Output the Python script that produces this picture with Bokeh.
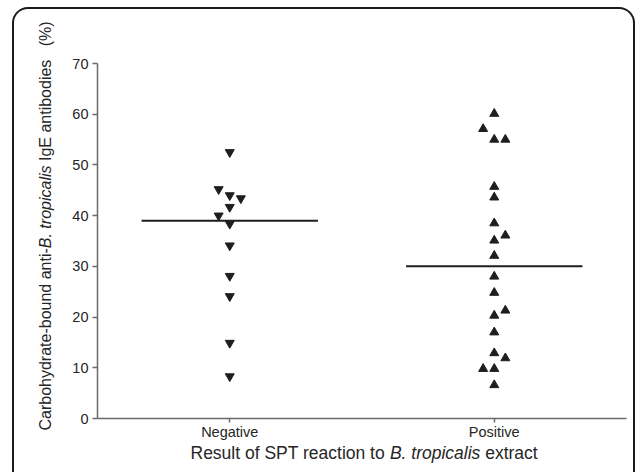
import math
from bokeh.plotting import figure
from bokeh.models import Label, FixedTicker, InlineStyleSheet, Range1d
from bokeh.embed import file_html
from bokeh.resources import INLINE

# ---------------- data ----------------
categories = ["Negative", "Positive"]
y_ticks = [0, 10, 20, 30, 40, 50, 60, 70]

neg_values = [52.5, 45.2, 44.0, 43.4, 41.7, 40.0, 38.4, 34.1, 28.1, 24.1, 14.9, 8.3]
neg_jitter = [0, -1, 0, 1, 0, -1, 0, 0, 0, 0, 0, 0]
neg_median = 39.0

pos_values = [60.1, 57.1, 55.0, 55.0, 45.7, 43.6, 38.5, 36.1, 35.1, 32.1, 28.0,
              24.8, 21.3, 20.3, 17.0, 12.9, 11.9, 9.8, 9.8, 6.6]
pos_jitter = [0, -1, 0, 1, 0, 0, 0, 1, 0, 0, 0, 0, 1, 0, 0, 0, 1, -1, 0, 0]
pos_median = 30.0

y_title_parts = [("Carbohydrate-bound anti-", "normal"), ("B. tropicalis", "italic"),
                 (" IgE antibodies", "normal"), ("   (%)", "normal")]
x_title_parts = [("Result of SPT reaction to ", "normal"), ("B. tropicalis", "italic"),
                 (" extract", "normal")]

# ---------------- layout ----------------
W, H = 635, 472
AX_L, AX_R, AX_T, AX_B = 97, 626, 63, 418   # pixel box of the axes
X0, X1 = 0.5, 2.5
Y0, Y1 = 0, 70
JIT = 0.042
HALF = 1 / 3
FONT = "Liberation Sans"
INK = "#1e1e1e"
TXT = "#262626"

# frame covers the whole canvas; axes are pinned at the data box
ppx = (AX_R - AX_L) / (X1 - X0)
ppy = (AX_B - AX_T) / (Y1 - Y0)
x_range = Range1d(X0 - AX_L / ppx, X1 + (W - AX_R) / ppx)
y_range = Range1d(Y0 - (H - AX_B) / ppy, Y1 + AX_T / ppy)

p = figure(width=W, height=H, output_backend="svg", toolbar_location=None,
           x_range=x_range, y_range=y_range, min_border=0)
p.outline_line_color = None
p.grid.visible = False

xs_neg = [1 + j * JIT for j in neg_jitter]
xs_pos = [2 + j * JIT for j in pos_jitter]
p.scatter(xs_neg, neg_values, marker="inverted_triangle", size=9,
          fill_color=INK, line_color=INK)
p.scatter(xs_pos, pos_values, marker="triangle", size=9,
          fill_color=INK, line_color=INK)
p.segment(x0=[1 - HALF, 2 - HALF], y0=[neg_median, pos_median],
          x1=[1 + HALF, 2 + HALF], y1=[neg_median, pos_median],
          line_color=INK, line_width=2)

for ax in (p.xaxis[0], p.yaxis[0]):
    ax.axis_line_color = "#6a6a6a"
    ax.axis_line_width = 1.5
    ax.major_tick_line_color = "#6a6a6a"
    ax.major_tick_line_width = 1.5
    ax.minor_tick_line_color = None
    ax.major_tick_in = 0
    ax.major_label_text_font = FONT
    ax.major_label_text_color = TXT
    ax.major_label_text_font_size = "14.5px"

p.yaxis.ticker = FixedTicker(ticks=y_ticks)
p.yaxis.bounds = (Y0, Y1)
p.yaxis.fixed_location = X0
p.yaxis.major_tick_out = 5
p.yaxis.major_label_standoff = 4
p.xaxis.ticker = FixedTicker(ticks=[1, 2])
p.xaxis.major_label_overrides = {1: categories[0], 2: categories[1]}
p.xaxis.bounds = (X0, X1)
p.xaxis.fixed_location = Y0
p.xaxis.major_tick_out = 4
p.xaxis.major_label_standoff = 1

# ---------------- titles built from pieces ----------------
AW = {' ': 278, '(': 333, ')': 333, '%': 889, '-': 333, '.': 278,
      'A': 667, 'B': 667, 'C': 722, 'E': 667, 'I': 278, 'P': 667, 'R': 722,
      'S': 667, 'T': 611, 'a': 556, 'b': 556, 'c': 500, 'd': 556, 'e': 556,
      'f': 278, 'g': 556, 'h': 556, 'i': 222, 'l': 222, 'n': 556, 'o': 556,
      'p': 556, 'r': 333, 's': 500, 't': 278, 'u': 556, 'x': 500, 'y': 500}


def tw(s, fs):
    return sum(AW.get(c, 556) for c in s) * fs / 1000.0


def pieces(parts, start, fs):
    out, cur = [], start
    for txt, style in parts:
        lead = len(txt) - len(txt.lstrip(" "))
        out.append((cur + tw(" " * lead, fs), txt.strip(" "), style))
        cur += tw(txt, fs)
    return out


# x title
XFS = 17.5
for pos, txt, style in pieces(x_title_parts, 190.0, XFS):
    p.add_layout(Label(x=pos, y=452, x_units="canvas", y_units="canvas",
                       text=txt, text_font=FONT, text_font_size=f"{XFS}px",
                       text_font_style=style, text_color=TXT,
                       text_align="left", text_baseline="alphabetic"))

# y title (reads bottom to top)
YFS = 16
for pos, txt, style in pieces(y_title_parts, 0.0, YFS):
    p.add_layout(Label(x=45, y=430.0 - pos, x_units="canvas", y_units="canvas",
                       text=txt, text_font=FONT, text_font_size=f"{YFS}px",
                       text_font_style=style, text_color=TXT,
                       text_align="left", text_baseline="alphabetic",
                       angle=math.pi / 2))

# rounded frame around the figure
p.stylesheets = [InlineStyleSheet(css=(
    ":host::after { content: ''; position: absolute; left: 12px; top: 7px; "
    "width: 623px; height: 465px; border: 2px solid #1a1a1a; border-bottom: none; "
    "border-radius: 16px 16px 0 0; box-sizing: border-box; pointer-events: none; }"))]

open("out.html", "w").write(file_html(p, INLINE))
